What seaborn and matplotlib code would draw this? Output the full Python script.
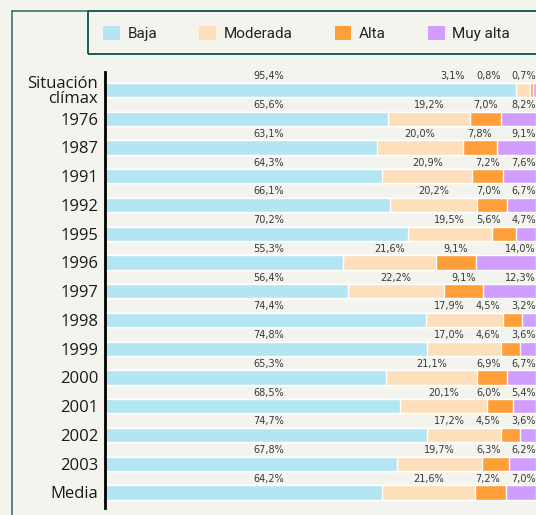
import matplotlib
matplotlib.use('Agg')
import numpy as np
import pandas as pd
import matplotlib.pyplot as plt
import seaborn as sns
from matplotlib.lines import Line2D
from matplotlib.patches import Patch, Rectangle

# --- data (percent of days per category) ---
categories = ['Situación\nclímax', '1976', '1987', '1991', '1992', '1995', '1996',
              '1997', '1998', '1999', '2000', '2001', '2002', '2003', 'Media']
baja = [95.4, 65.6, 63.1, 64.3, 66.1, 70.2, 55.3, 56.4, 74.4, 74.8, 65.3, 68.5, 74.7, 67.8, 64.2]
moderada = [3.1, 19.2, 20.0, 20.9, 20.2, 19.5, 21.6, 22.2, 17.9, 17.0, 21.1, 20.1, 17.2, 19.7, 21.6]
alta = [0.8, 7.0, 7.8, 7.2, 7.0, 5.6, 9.1, 9.1, 4.5, 4.6, 6.9, 6.0, 4.5, 6.3, 7.2]
muy_alta = [0.7, 8.2, 9.1, 7.6, 6.7, 4.7, 14.0, 12.3, 3.2, 3.6, 6.7, 5.4, 3.6, 6.2, 7.0]

series_names = ['Baja', 'Moderada', 'Alta', 'Muy alta']
colors = ['#b3e5f2', '#fde0bb', '#ff9f3a', '#d19eff']

df = pd.DataFrame({'Año': categories, 'Baja': baja, 'Moderada': moderada,
                   'Alta': alta, 'Muy alta': muy_alta})
cum = df[series_names].cumsum(axis=1)
cum['Año'] = df['Año']

# --- style ---
sns.set_theme(style='white')
plt.rcParams['font.family'] = ['Open Sans', 'DejaVu Sans']
bg = '#f4f4ee'

fig = plt.figure(figsize=(5.36, 5.15), dpi=100, facecolor=bg)
ax = fig.add_axes([105 / 536, 7 / 515, 431 / 536, 436 / 515])
ax.set_facecolor(bg)

# stacked bars: draw cumulative totals from the back to the front
for name, color in reversed(list(zip(series_names, colors))):
    sns.barplot(data=cum, x=name, y='Año', order=categories, orient='h',
                color=color, saturation=1, width=0.49, errorbar=None, ax=ax)

ax.set_xlim(0, 100)
ax.set_ylim(14.54, -0.626)
ax.set_xlabel('')
ax.set_ylabel('')
ax.set_xticks([])
for s in ['top', 'right', 'bottom']:
    ax.spines[s].set_visible(False)
ax.spines['left'].set_color('black')
ax.spines['left'].set_linewidth(2)
ax.tick_params(axis='y', length=0, pad=5, labelsize=12, labelcolor='#1a1a1a')
for lab in ax.get_yticklabels():
    lab.set_linespacing(0.9)

# --- percentage labels above each bar ---
def fmt(v):
    return f'{v:.1f}%'.replace('.', ',')

lab_kw = dict(fontsize=7, color='#383838', va='baseline', family='DejaVu Sans')
dy = 0.37
texts = []
for i in range(len(categories)):
    ax.text(37.9, i - dy, fmt(baja[i]), ha='center', **lab_kw)
    t_mod = ax.text(baja[i] + moderada[i] / 2, i - dy, fmt(moderada[i]), ha='center', **lab_kw)
    t_alt = ax.text(baja[i] + moderada[i] + alta[i] / 2, i - dy, fmt(alta[i]), ha='center', **lab_kw)
    t_muy = ax.text(100, i - dy, fmt(muy_alta[i]), ha='right', **lab_kw)
    texts.append((t_mod, t_alt, t_muy))

# keep small-segment labels from overlapping
fig.canvas.draw()
renderer = fig.canvas.get_renderer()
px_per_unit = ax.bbox.width / 100
gap = 11 / px_per_unit
for t_mod, t_alt, t_muy in texts:
    w_muy = t_muy.get_window_extent(renderer).width / px_per_unit
    left_limit = 100 - w_muy
    for t in (t_alt, t_mod):
        w = t.get_window_extent(renderer).width / px_per_unit
        x = t.get_position()[0]
        right = min(x + w / 2, left_limit - gap)
        t.set_x(right - w / 2)
        left_limit = right - w

# --- legend ---
handles = [Patch(facecolor=c, edgecolor='none', label=n) for n, c in zip(series_names, colors)]
fig.legend(handles=handles, loc='center left', bbox_to_anchor=(103 / 536, 1 - 33.5 / 515),
           ncol=4, frameon=False, prop={'family': 'Roboto', 'size': 11},
           handlelength=1.1, handleheight=1.1, handletextpad=0.5,
           columnspacing=2.75, borderpad=0, borderaxespad=0, labelcolor='#222222')

# frames
fig.add_artist(Line2D([11.5 / 536, 11.5 / 536], [0, 1 - 11 / 515],
                      transform=fig.transFigure, color='#3f7272', lw=1.2))
fig.add_artist(Line2D([11.5 / 536, 87 / 536], [1 - 11 / 515, 1 - 11 / 515],
                      transform=fig.transFigure, color='#3f7272', lw=1.2))
fig.add_artist(Rectangle((87.5 / 536, 1 - 54 / 515), 0.9, 43 / 515, fill=False,
                         edgecolor='#0d4f50', lw=1.3, transform=fig.transFigure))

fig.savefig('out.png', dpi=100, facecolor=bg)
